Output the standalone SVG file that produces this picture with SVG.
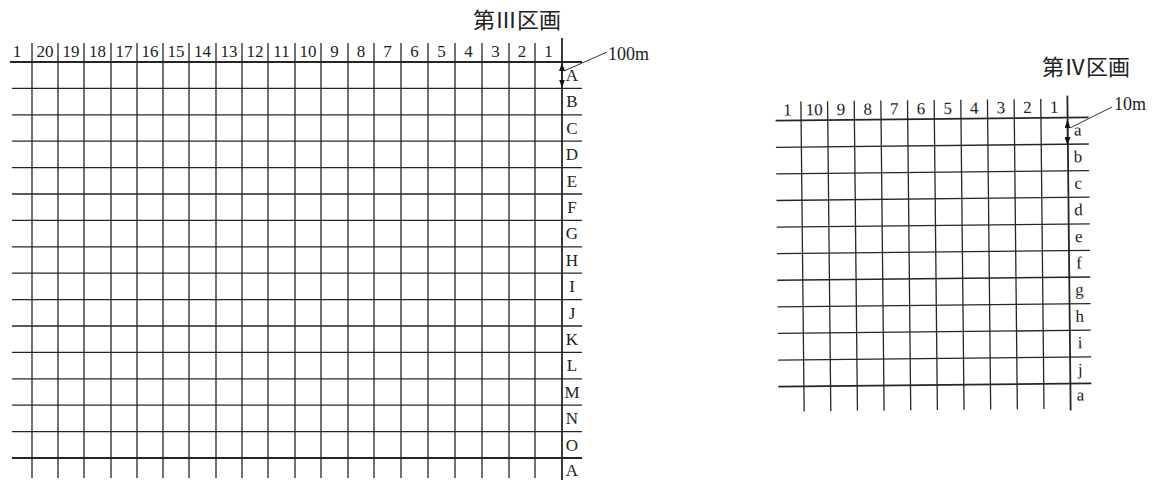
<svg xmlns="http://www.w3.org/2000/svg" width="1169" height="484" viewBox="0 0 1169 484">
<defs>
<style>
.g line{stroke:#262626;stroke-width:1.3;}
.g line.b{stroke-width:1.8;}
.lbl{font-family:"Liberation Serif","Times New Roman",serif;font-size:17px;fill:#222;text-anchor:middle;}
.unit{font-family:"Liberation Serif","Times New Roman",serif;font-size:18px;fill:#222;}
.title{font-family:"Liberation Serif","Noto Sans CJK JP",serif;font-size:22px;fill:#222;}
.lead{stroke:#333;stroke-width:1;fill:none;}
.dim{stroke:#222;stroke-width:1.3;fill:none;}
</style>
<marker id="ah" viewBox="0 0 8 6" refX="8" refY="3" markerWidth="8" markerHeight="6" markerUnits="userSpaceOnUse" orient="auto-start-reverse">
<path d="M0,0 L8,3 L0,6 Z" fill="#111"/>
</marker>
</defs>
<rect width="1169" height="484" fill="#fff"/>

<g id="section-III">
<text id="title-III" class="title" x="473" y="28">第Ⅲ区画</text>
<g id="grid-III" class="g">
<line x1="10" y1="62" x2="582" y2="62" class="b"/>
<line x1="12" y1="88.4" x2="582" y2="88.4"/>
<line x1="12" y1="114.8" x2="582" y2="114.8"/>
<line x1="12" y1="141.2" x2="582" y2="141.2"/>
<line x1="12" y1="167.6" x2="582" y2="167.6"/>
<line x1="12" y1="194" x2="582" y2="194"/>
<line x1="12" y1="220.4" x2="582" y2="220.4"/>
<line x1="12" y1="246.8" x2="582" y2="246.8"/>
<line x1="12" y1="273.2" x2="582" y2="273.2"/>
<line x1="12" y1="299.6" x2="582" y2="299.6"/>
<line x1="12" y1="326" x2="582" y2="326"/>
<line x1="12" y1="352.4" x2="582" y2="352.4"/>
<line x1="12" y1="378.8" x2="582" y2="378.8"/>
<line x1="12" y1="405.2" x2="582" y2="405.2"/>
<line x1="12" y1="431.6" x2="582" y2="431.6"/>
<line x1="12" y1="458" x2="582" y2="458" class="b"/>
<line x1="32" y1="43" x2="32" y2="478"/>
<line x1="58" y1="43" x2="58" y2="478"/>
<line x1="84" y1="43" x2="84" y2="478"/>
<line x1="111" y1="43" x2="111" y2="478"/>
<line x1="137" y1="43" x2="137" y2="478"/>
<line x1="163" y1="43" x2="163" y2="478"/>
<line x1="189" y1="43" x2="189" y2="478"/>
<line x1="216" y1="43" x2="216" y2="478"/>
<line x1="242" y1="43" x2="242" y2="478"/>
<line x1="268" y1="43" x2="268" y2="478"/>
<line x1="295" y1="43" x2="295" y2="478"/>
<line x1="321" y1="43" x2="321" y2="478"/>
<line x1="348" y1="43" x2="348" y2="478"/>
<line x1="374" y1="43" x2="374" y2="478"/>
<line x1="401" y1="43" x2="401" y2="478"/>
<line x1="428" y1="43" x2="428" y2="478"/>
<line x1="455" y1="43" x2="455" y2="478"/>
<line x1="482" y1="43" x2="482" y2="478"/>
<line x1="509" y1="43" x2="509" y2="478"/>
<line x1="535" y1="43" x2="535" y2="478"/>
<line x1="562" y1="38" x2="562" y2="480" class="b"/>
</g>
<g id="cols-III" class="lbl">
<text x="17" y="57">1</text>
<text x="45" y="57">20</text>
<text x="71" y="57">19</text>
<text x="97.5" y="57">18</text>
<text x="124" y="57">17</text>
<text x="150" y="57">16</text>
<text x="176" y="57">15</text>
<text x="202.5" y="57">14</text>
<text x="229" y="57">13</text>
<text x="255" y="57">12</text>
<text x="281.5" y="57">11</text>
<text x="308" y="57">10</text>
<text x="334.5" y="57">9</text>
<text x="361" y="57">8</text>
<text x="387.5" y="57">7</text>
<text x="414.5" y="57">6</text>
<text x="441.5" y="57">5</text>
<text x="468.5" y="57">4</text>
<text x="495.5" y="57">3</text>
<text x="522" y="57">2</text>
<text x="548.5" y="57">1</text>
</g>
<g id="rows-III" class="lbl">
<text x="572" y="81">A</text>
<text x="572" y="107.4">B</text>
<text x="572" y="133.8">C</text>
<text x="572" y="160.2">D</text>
<text x="572" y="186.6">E</text>
<text x="572" y="213">F</text>
<text x="572" y="239.4">G</text>
<text x="572" y="265.8">H</text>
<text x="572" y="292.2">I</text>
<text x="572" y="318.6">J</text>
<text x="572" y="345">K</text>
<text x="572" y="371.4">L</text>
<text x="572" y="397.8">M</text>
<text x="572" y="424.2">N</text>
<text x="572" y="450.6">O</text>
<text x="572" y="476">A</text>
</g>
<text id="unit-III" class="unit" x="608" y="60">100m</text>
</g>

<g id="section-IV">
<text id="title-IV" class="title" x="1042" y="75">第Ⅳ区画</text>
<g transform="rotate(-0.6 937 253)">
<g id="grid-IV" class="g">
<line x1="777" y1="119" x2="1090" y2="119" class="b"/>
<line x1="777" y1="145.6" x2="1090" y2="145.6"/>
<line x1="777" y1="172.2" x2="1090" y2="172.2"/>
<line x1="777" y1="198.8" x2="1090" y2="198.8"/>
<line x1="777" y1="225.4" x2="1090" y2="225.4"/>
<line x1="777" y1="252" x2="1090" y2="252"/>
<line x1="777" y1="278.6" x2="1090" y2="278.6"/>
<line x1="777" y1="305.2" x2="1090" y2="305.2"/>
<line x1="777" y1="331.8" x2="1090" y2="331.8"/>
<line x1="777" y1="358.4" x2="1090" y2="358.4"/>
<line x1="777" y1="385" x2="1090" y2="385" class="b"/>
<line x1="802.5" y1="100" x2="802.5" y2="410"/>
<line x1="829.15" y1="100" x2="829.15" y2="410"/>
<line x1="855.8" y1="100" x2="855.8" y2="410"/>
<line x1="882.45" y1="100" x2="882.45" y2="410"/>
<line x1="909.1" y1="100" x2="909.1" y2="410"/>
<line x1="935.75" y1="100" x2="935.75" y2="410"/>
<line x1="962.4" y1="100" x2="962.4" y2="410"/>
<line x1="989.05" y1="100" x2="989.05" y2="410"/>
<line x1="1015.7" y1="100" x2="1015.7" y2="410"/>
<line x1="1042.35" y1="100" x2="1042.35" y2="410"/>
<line x1="1069" y1="97" x2="1069" y2="412" class="b"/>
</g>
<g id="cols-IV" class="lbl">
<text x="789" y="114">1</text>
<text x="815.8" y="114">10</text>
<text x="842.5" y="114">9</text>
<text x="869.1" y="114">8</text>
<text x="895.8" y="114">7</text>
<text x="922.4" y="114">6</text>
<text x="949.1" y="114">5</text>
<text x="975.7" y="114">4</text>
<text x="1002.4" y="114">3</text>
<text x="1029" y="114">2</text>
<text x="1055.7" y="114">1</text>
</g>
<g id="rows-IV" class="lbl">
<text x="1079" y="137">a</text>
<text x="1079" y="163.6">b</text>
<text x="1079" y="190.2">c</text>
<text x="1079" y="216.8">d</text>
<text x="1079" y="243.4">e</text>
<text x="1079" y="270">f</text>
<text x="1079" y="296.6">g</text>
<text x="1079" y="323.2">h</text>
<text x="1079" y="349.8">i</text>
<text x="1079" y="376.4">j</text>
<text x="1079" y="402">a</text>
</g>
</g>
<text id="unit-IV" class="unit" x="1114" y="110">10m</text>
</g>

<g id="connectors">
<line class="dim" x1="562" y1="75" x2="562" y2="63" marker-end="url(#ah)"/>
<line class="dim" x1="562" y1="75" x2="562" y2="87.5" marker-end="url(#ah)"/>
<line class="lead" x1="564" y1="71" x2="607" y2="52"/>
<line class="dim" x1="1067.5" y1="132" x2="1067.5" y2="120" marker-end="url(#ah)"/>
<line class="dim" x1="1067.5" y1="132" x2="1067.5" y2="145" marker-end="url(#ah)"/>
<line class="lead" x1="1070" y1="128" x2="1112" y2="107"/>
</g>
</svg>
